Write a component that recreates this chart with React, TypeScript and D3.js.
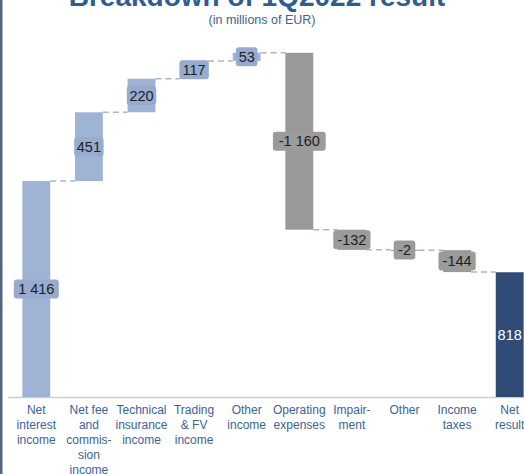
import React from "react";
import * as d3 from "d3";

const categories = ["nii", "fee", "tech", "trading", "otherinc", "opex", "impair", "other", "tax", "net"];
const categoryLines = [
  ["Net", "interest", "income"],
  ["Net fee", "and", "commis-", "sion", "income"],
  ["Technical", "insurance", "income"],
  ["Trading", "& FV", "income"],
  ["Other", "income"],
  ["Operating", "expenses"],
  ["Impair-", "ment"],
  ["Other"],
  ["Income", "taxes"],
  ["Net", "result"],
];
const values = [1416, 451, 220, 117, 53, -1160, -132, -2, -144, 818];
const kinds = ["total", "step", "step", "step", "step", "step", "step", "step", "step", "total"];
const valueLabels = ["1 416", "451", "220", "117", "53", "-1 160", "-132", "-2", "-144", "818"];

const W = 524;
const H = 474;

export default function App() {
  const x = d3.scaleBand<string>().domain(categories).range([10, 536]).paddingInner(0.47).paddingOuter(0.235);
  const y = d3.scaleLinear().domain([0, 2600]).range([397, 0.5]);

  let run = 0;
  const bars = values.map((v, i) => {
    let start: number, end: number;
    if (kinds[i] === "total") {
      start = 0;
      end = v;
      run = v;
    } else {
      start = run;
      end = run + v;
      run = end;
    }
    return { key: categories[i], v, start, end, i };
  });

  const fillFor = (b: { v: number; i: number }) =>
    kinds[b.i] === "total" && b.i > 0 ? "#2f4b76" : b.v >= 0 ? "#9fb3d4" : "#999999";
  const boxFor = (b: { v: number; i: number }) =>
    b.v >= 0 ? "#97abcf" : "#9b9b9b";

  return (
    <svg width={W} height={H} style={{ position: "absolute", left: 0, top: 0, background: "#fff" }}>
      <rect x={0} y={0} width={W} height={H} fill="#ffffff" />
      <rect x={0} y={0} width={2.5} height={H} fill="#56657f" />
      <text x={257} y={6} textAnchor="middle" fontFamily="Liberation Sans, Arial, sans-serif" fontWeight="bold" fontSize={28} fill="#2d5d91">
        Breakdown of 1Q2022 result
      </text>
      <text x={262} y={24} textAnchor="middle" fontFamily="Liberation Sans, Arial, sans-serif" fontSize={12.5} fill="#3d6391">
        (in millions of EUR)
      </text>
      <line x1={8} x2={W} y1={y(0) + 0.5} y2={y(0) + 0.5} stroke="#c9ced8" strokeWidth={1.5} />
      {bars.map((b, i) => {
        if (i === bars.length - 1) return null;
        const nb = bars[i + 1];
        const level = b.end;
        const x1 = (x(b.key) as number) + x.bandwidth();
        const x2 = x(nb.key) as number;
        return (
          <line key={"c" + i} x1={x1} x2={x2} y1={y(level)} y2={y(level)} stroke="#a9b5ca" strokeWidth={1.5} strokeDasharray="6,4" />
        );
      })}
      {bars.map((b) => {
        const top = y(Math.max(b.start, b.end));
        const bot = y(Math.min(b.start, b.end));
        return (
          <rect key={"b" + b.key} x={x(b.key)} y={top} width={x.bandwidth()} height={Math.max(1, bot - top)} fill={fillFor(b)} />
        );
      })}
      {bars.map((b) => {
        const cx = (x(b.key) as number) + x.bandwidth() / 2;
        const cy = (y(b.start) + y(b.end)) / 2;
        const label = valueLabels[b.i];
        const tw = label.length * 7.8 + 6;
        const isNet = kinds[b.i] === "total" && b.i > 0;
        return (
          <g key={"l" + b.key}>
            {!isNet && (
              <rect x={cx - tw / 2} y={cy - 9.5} width={tw} height={19} rx={3} fill={boxFor(b)} />
            )}
            <text x={cx} y={cy + 5} textAnchor="middle" fontFamily="Liberation Sans, Arial, sans-serif" fontSize={14.5} fill={isNet ? "#ffffff" : "#1e1e1e"}>
              {label}
            </text>
          </g>
        );
      })}
      {categories.map((c, i) => {
        const cx = (x(c) as number) + x.bandwidth() / 2;
        return (
          <text key={"t" + c} textAnchor="middle" fontFamily="Liberation Sans, Arial, sans-serif" fontSize={12} fill="#3a6396">
            {categoryLines[i].map((ln, j) => (
              <tspan key={j} x={cx} y={414 + j * 15}>
                {ln}
              </tspan>
            ))}
          </text>
        );
      })}
    </svg>
  );
}
